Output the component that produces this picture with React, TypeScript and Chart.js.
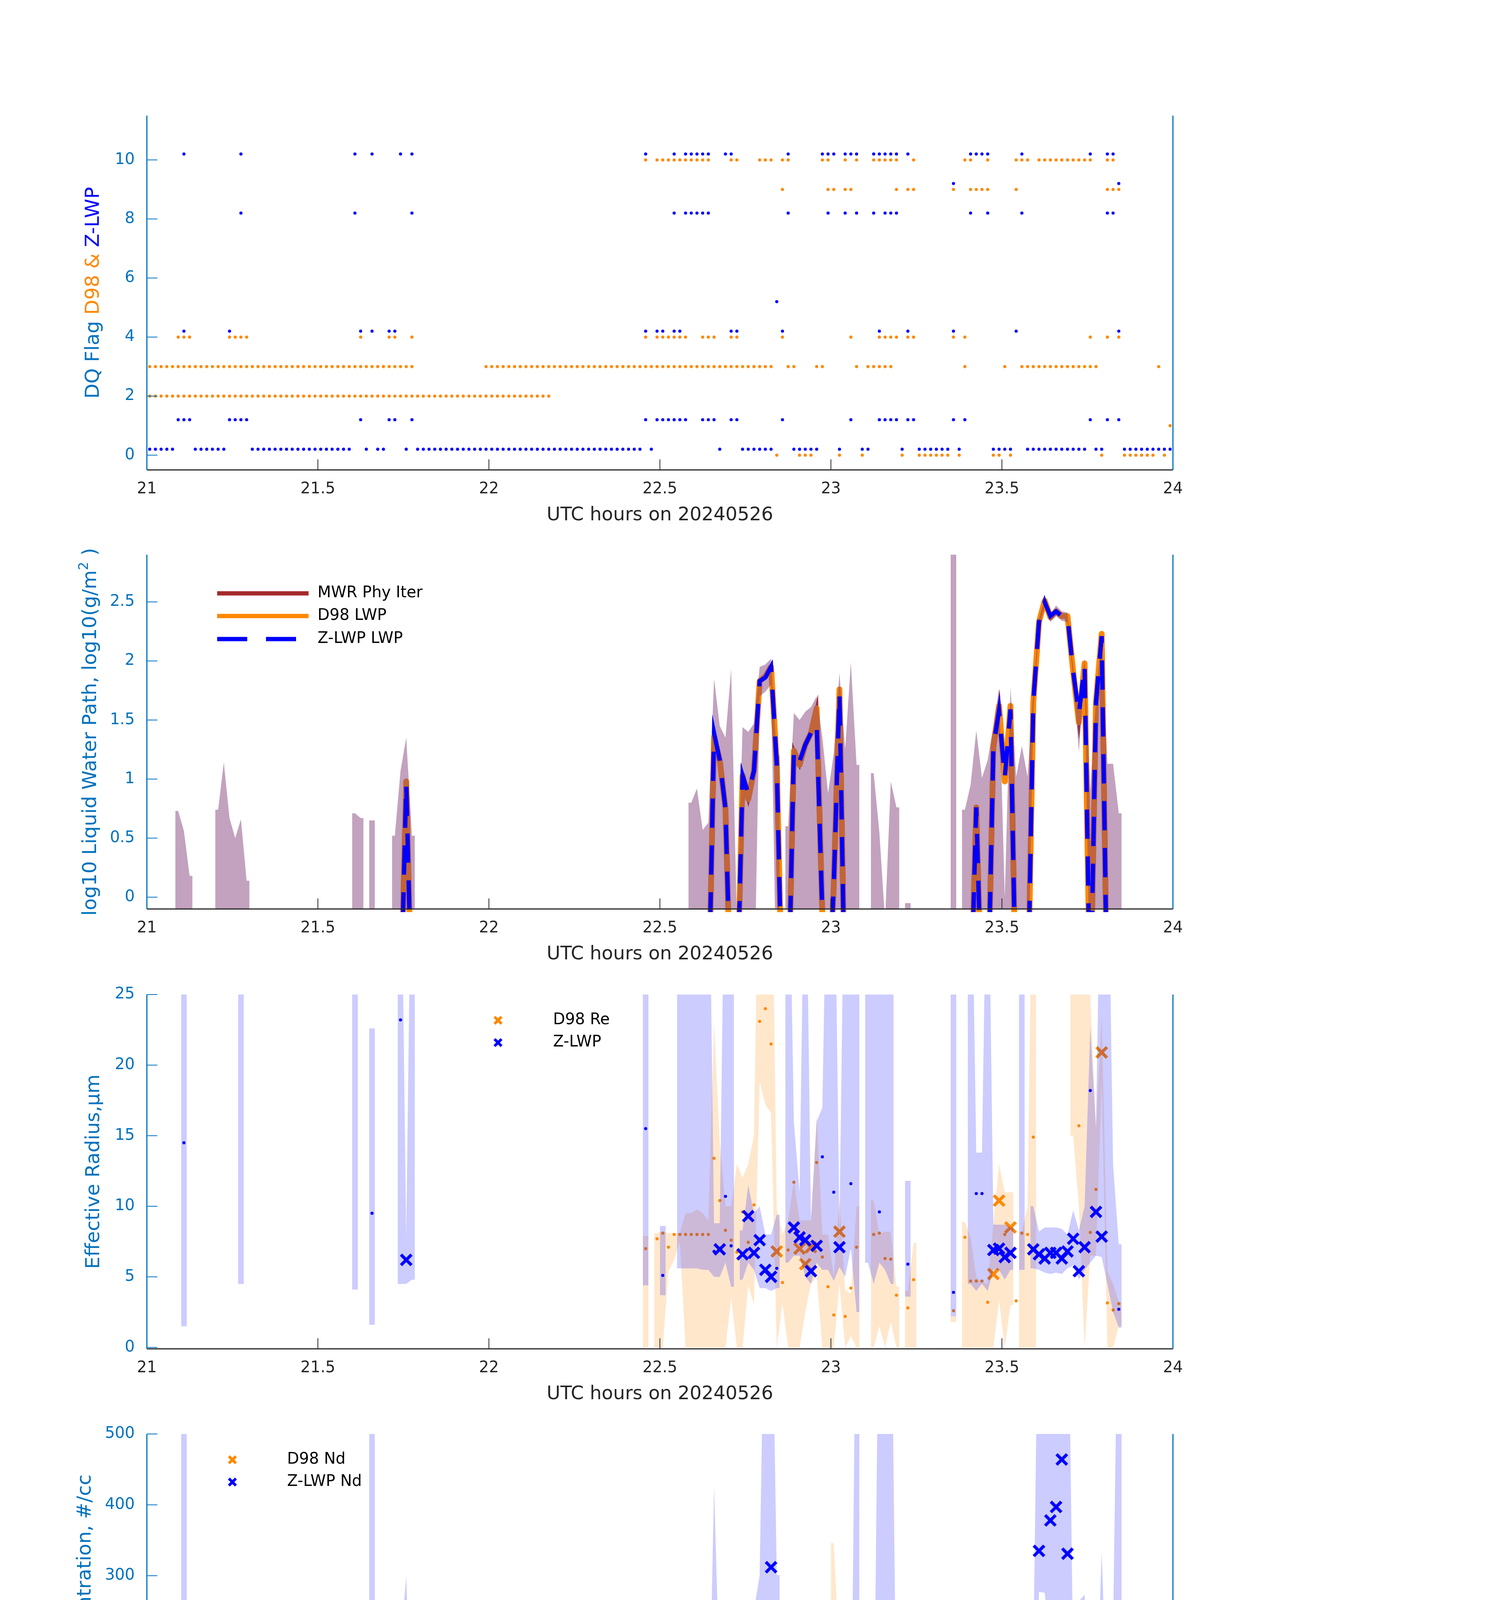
import { useEffect, useRef } from "react";
import { Chart, registerables } from "chart.js";

Chart.register(...registerables);

const FONT = "'DejaVu Sans', 'Liberation Sans', sans-serif";
const AXIS_BLUE = "#0072BD";
const INK = "#262626";
const ORANGE = "#FF8800";
const BLUE = "#0000FF";
const ORANGE_BAND = "rgba(255,136,0,0.2)";
const BLUE_BAND = "rgba(0,0,255,0.2)";
const MWR_BAND = "rgba(128,60,120,0.48)";

const PAGE_W = 3825;
const PLOT_LEFT = 376;
const PLOT_RIGHT = 3003;
const PLOT_H = 907;
const CANVAS_H = 1125;
const PAD_TOP = 60;

// one sample per minute after 21 UTC, stamped at mid-minute
const hourOf = (m: number) => 21 + (m + 0.5) / 60;
const xTicks = [21, 21.5, 22, 22.5, 23, 23.5, 24];

// ---- panel 1: data quality flags, [first minute, last minute] runs ----
const zFlag0 = [[0, 4], [8, 13], [18, 35], [38, 38], [40, 41], [45, 45], [47, 86], [88, 88], [100, 100], [104, 109], [113, 117], [121, 121], [125, 126], [132, 132], [135, 140], [142, 142], [148, 151], [154, 164], [166, 167], [171, 179]];
const zFlag1 = [[5, 7], [14, 17], [37, 37], [42, 43], [46, 46], [87, 87], [89, 94], [97, 99], [102, 103], [111, 111], [123, 123], [128, 131], [133, 134], [141, 141], [143, 143], [165, 165], [168, 168], [170, 170]];
const zFlag4 = [[6, 6], [14, 14], [37, 37], [39, 39], [42, 43], [87, 87], [89, 90], [92, 93], [102, 103], [111, 111], [128, 128], [133, 133], [141, 141], [152, 152], [170, 170]];
const zFlag5 = [[110, 110]];
const zFlag8 = [[16, 16], [36, 36], [46, 46], [92, 92], [94, 98], [112, 112], [119, 119], [122, 122], [124, 124], [127, 127], [129, 131], [144, 144], [147, 147], [153, 153], [168, 169]];
const zFlag9 = [[141, 141], [170, 170]];
const zFlag10 = [[6, 6], [16, 16], [36, 36], [39, 39], [44, 44], [46, 46], [87, 87], [92, 92], [94, 98], [101, 102], [112, 112], [118, 120], [122, 124], [127, 131], [133, 133], [144, 147], [153, 153], [165, 165], [168, 169]];

const dFlag0 = [[110, 110], [114, 116], [121, 121], [125, 125], [132, 132], [135, 140], [142, 142], [148, 149], [151, 151], [167, 167], [171, 176], [178, 178]];
const dFlag1 = [[179, 179]];
const dFlag2 = [[0, 70]];
const dFlag3 = [[0, 46], [59, 109], [112, 113], [117, 118], [124, 124], [126, 130], [143, 143], [150, 150], [153, 166], [177, 177]];
const dFlag4 = [[5, 7], [14, 17], [37, 37], [42, 43], [46, 46], [87, 87], [89, 94], [97, 99], [102, 103], [111, 111], [123, 123], [128, 131], [133, 134], [141, 141], [143, 143], [165, 165], [168, 168], [170, 170]];
const dFlag9 = [[111, 111], [119, 120], [122, 123], [131, 131], [133, 134], [141, 141], [144, 147], [152, 152], [168, 170]];
const dFlag10 = [[87, 87], [89, 98], [102, 103], [107, 109], [111, 112], [118, 119], [122, 122], [124, 124], [127, 131], [134, 134], [143, 144], [147, 147], [152, 154], [156, 165], [168, 169]];

// ---- panel 2: log10 LWP, [minute, value]; -1 marks a zero (off the bottom) ----
const lwpD98 = [[44, -1], [45, 0.98], [46, -1], [98, -1], [99, 1.36], [100, 1.16], [101, 0.75], [102, -1], [103, -1], [104, 1.03], [105, 0.83], [106, 1.07], [107, 1.83], [108, 1.87], [109, 1.95], [110, 1.13], [111, -1], [112, -1], [113, 1.24], [114, 1.12], [115, 1.29], [116, 1.39], [117, 1.6], [118, -0.15], [119, -1], [120, 0.1], [121, 1.76], [122, -1], [144, -1], [145, 0.76], [146, -1], [147, -1], [148, 1.27], [149, 1.62], [150, 0.98], [151, 1.62], [152, -1], [153, -1], [154, -1], [155, 1.65], [156, 2.33], [157, 2.51], [158, 2.37], [159, 2.42], [160, 2.38], [161, 2.38], [162, 1.91], [163, 1.48], [164, 1.98], [165, -1], [166, 1.65], [167, 2.23], [168, -1]];
const lwpZlwp = [[44, -1], [45, 0.96], [46, -1], [98, -1], [99, 1.39], [100, 1.16], [101, 0.75], [102, -1], [103, -1], [104, 1.03], [105, 0.88], [106, 1.07], [107, 1.83], [108, 1.86], [109, 1.95], [110, 1.13], [111, -1], [112, -1], [113, 1.24], [114, 1.15], [115, 1.29], [116, 1.39], [117, 1.47], [118, -0.15], [119, -1], [120, 0.1], [121, 1.72], [122, -1], [144, -1], [145, 0.76], [146, -1], [147, -1], [148, 1.27], [149, 1.58], [150, 1.01], [151, 1.59], [152, -1], [153, -1], [154, -1], [155, 1.65], [156, 2.33], [157, 2.5], [158, 2.38], [159, 2.42], [160, 2.38], [161, 2.38], [162, 1.91], [163, 1.55], [164, 1.96], [165, -1], [166, 1.65], [167, 2.21], [168, -1]];
// the MWR physical retrieval lies under the D98 trace at this scale
const lwpMwr = lwpD98;
const LWP_TOP = 3.5;
// [minute, low, high]
const lwpMwrBand = [[5, -1, 0.73], [6, -1, 0.56], [7, -1, 0.18], [12, -1, 0.74], [13, -1, 1.14], [14, -1, 0.67], [15, -1, 0.5], [16, -1, 0.66], [17, -1, 0.14], [36, -1, 0.71], [37, -1, 0.67], [39, -1, 0.65], [43, -1, 0.52], [44, -1, 1.07], [45, -1, 1.35], [46, -1, 0.52], [95, -1, 0.8], [96, -1, 0.92], [97, -1, 0.57], [98, -1, 0.63], [99, -1, 1.85], [100, -1, 1.45], [101, -1, 1.35], [102, -1, 1.93], [103, -1, -0.2], [104, -1, 1.44], [105, -1, 1.4], [106, -1, 1.47], [107, 1.7, 1.95], [108, 1.74, 1.97], [109, 1.8, 2.02], [110, -1, 1.2], [112, -1, 0.6], [113, -1, 1.56], [114, -1, 1.5], [115, -1, 1.57], [116, -1, 1.61], [117, -1, 1.7], [118, -1, 1.35], [119, -1, 0.88], [120, -1, 1.22], [121, -1, 1.9], [122, -1, 1.25], [123, -1, 1.99], [124, -1, 1.12], [127, -1, 1.05], [128, -1, 0.55], [129, -1, -0.2], [130, -1, 0.98], [131, -1, 0.76], [133, -1, -0.05], [141, -1, LWP_TOP], [143, -1, 0.74], [144, -1, 0.95], [145, -1, 1.41], [146, -1, 1.01], [147, -1, 1.16], [148, -1, 1.45], [149, -1, 1.77], [150, -1, 0.0], [151, -1, 1.78], [152, -1, 1.02], [153, -1, 1.28], [154, -1, 1.02], [155, 1.55, 1.75], [156, 2.28, 2.36], [157, 2.46, 2.53], [158, 2.33, 2.4], [159, 2.38, 2.47], [160, 2.34, 2.42], [161, 2.33, 2.41], [162, 1.85, 1.95], [163, 1.23, 1.6], [164, 1.9, 2.02], [165, -1, 0.9], [166, -1, 1.7], [167, -1, 2.24], [168, -1, 1.13], [169, -1, 1.13], [170, -1, 0.71]];

// ---- panel 3: effective radius (um) ----
const RE_TOP = 40;
const reZlwpGood = [[45, 6.2], [100, 6.95], [104, 6.6], [105, 9.3], [106, 6.7], [107, 7.6], [108, 5.5], [109, 5.0], [113, 8.5], [114, 7.8], [115, 7.6], [116, 5.4], [117, 7.2], [121, 7.1], [148, 6.9], [149, 7.0], [150, 6.4], [151, 6.7], [155, 6.95], [156, 6.6], [157, 6.3], [158, 6.7], [159, 6.7], [160, 6.3], [161, 6.8], [162, 7.7], [163, 5.4], [164, 7.1], [166, 9.6], [167, 7.85]];
const reZlwpOther = [[6, 14.5], [39, 9.5], [44, 23.2], [87, 15.5], [90, 5.1], [99, 6.8], [101, 10.7], [102, 7.2], [110, 5.6], [118, 13.5], [120, 11.0], [123, 11.6], [128, 9.6], [133, 5.9], [141, 3.9], [145, 10.9], [146, 10.9], [165, 18.2], [170, 2.7]];
const reD98Good = [[110, 6.8], [114, 7.0], [115, 5.9], [116, 7.1], [121, 8.2], [148, 5.2], [149, 10.4], [151, 8.5], [167, 20.9]];
const reD98Other = [[87, 7.0], [89, 7.7], [90, 8.1], [91, 7.1], [92, 8.0], [93, 8.0], [94, 8.0], [95, 8.0], [96, 8.0], [97, 8.0], [98, 8.0], [99, 13.4], [100, 10.4], [101, 8.3], [102, 7.6], [103, 6.75], [104, 9.6], [105, 7.45], [106, 10.1], [107, 23.1], [108, 24.0], [109, 21.5], [111, 4.6], [112, 6.9], [113, 11.7], [117, 13.1], [118, 6.4], [119, 4.3], [120, 2.3], [122, 2.2], [123, 4.2], [124, 7.1], [127, 8.0], [128, 8.1], [129, 6.3], [130, 6.25], [131, 3.7], [133, 2.8], [134, 4.8], [141, 2.6], [143, 7.8], [144, 4.7], [145, 4.7], [146, 4.7], [147, 3.2], [150, 8.0], [152, 3.3], [153, 8.1], [154, 8.0], [155, 14.9], [163, 15.7], [165, 8.15], [166, 11.2], [168, 3.15], [169, 2.65], [170, 3.1]];
const reZlwpBand = [[6, 1.5, RE_TOP], [16, 4.5, RE_TOP], [36, 4.1, RE_TOP], [39, 1.6, 22.6], [44, 4.5, RE_TOP], [45, 4.5, 7.8], [46, 4.8, RE_TOP], [87, 4.4, RE_TOP], [90, 3.7, 8.6], [93, 5.6, RE_TOP], [94, 5.6, RE_TOP], [95, 5.6, RE_TOP], [96, 5.6, RE_TOP], [97, 5.5, RE_TOP], [98, 5.5, RE_TOP], [99, 5.0, 8.8], [100, 5.0, 8.8], [101, 6.0, RE_TOP], [102, 4.3, RE_TOP], [104, 4.8, 8.3], [105, 6.0, 11.5], [106, 5.5, 9.5], [107, 4.2, 10], [108, 4.2, 8.0], [109, 4.0, 8.0], [110, 4.2, 9.4], [112, 6.0, RE_TOP], [113, 6.5, 16], [114, 6.5, 11], [115, 5.0, RE_TOP], [116, 4.5, 9], [117, 6.0, 16], [118, 5.5, 17], [119, 5.5, RE_TOP], [120, 4.7, RE_TOP], [121, 5.7, 8.4], [122, 5.0, RE_TOP], [123, 7.0, RE_TOP], [124, 2.5, RE_TOP], [126, 6.0, RE_TOP], [127, 4.5, RE_TOP], [128, 6.0, RE_TOP], [129, 5.5, RE_TOP], [130, 4.5, RE_TOP], [133, 3.6, 11.8], [141, 2.2, RE_TOP], [144, 4.5, RE_TOP], [145, 4.0, 13.8], [146, 4.5, 13.8], [147, 4.0, RE_TOP], [148, 5.5, 8.7], [149, 5.5, 8.7], [150, 4.8, 8.7], [151, 5.5, 8.5], [153, 5.5, RE_TOP], [155, 5.6, 10.0], [156, 5.5, 8.2], [157, 5.3, 8.5], [158, 5.2, 8.5], [159, 5.3, 8.5], [160, 5.2, 8.4], [161, 5.6, 8.0], [162, 5.8, 9.7], [163, 4.8, 8.3], [164, 5.5, 10.0], [165, 6.0, 22.7], [166, 6.5, 15.6], [167, 6.4, RE_TOP], [168, 4.5, RE_TOP], [169, 2.5, 12.9], [170, 1.4, 7.3]];
const reD98Band = [[87, 0, 7.9], [89, 0, 8.1], [90, 0, 8.2], [91, 5.4, 8.1], [92, 6.2, 8.1], [93, 7.5, 8.1], [94, 0, 9.5], [95, 0, 9.5], [96, 0, 9.8], [97, 0, 9.5], [98, 0, 9.0], [99, 0, 23], [100, 0, 14.5], [101, 0, 10], [102, 3.5, 10], [103, 0, 13], [104, 0, 12], [105, 4.4, 13], [106, 3, 15], [107, 18.8, RE_TOP], [108, 17.2, RE_TOP], [109, 16.6, RE_TOP], [110, 0, 9.8], [111, 3.1, 8.0], [112, 0, 9], [113, 0, 11.8], [114, 0, 9], [115, 2.5, 9], [116, 4.5, 9], [117, 5, 16.5], [118, 0, 8], [119, 0, 8], [120, 0, 5], [121, 4.5, 10.5], [122, 0, 4.1], [123, 0.8, 3.8], [124, 0, 10], [127, 0, 10.4], [128, 1.5, 8.0], [129, 0, 8.2], [130, 1.8, 8.2], [131, 0, 4.3], [133, 0, 4.0], [134, 0, 7.4], [141, 1.8, 2.2], [143, 0, 8.9], [144, 0, 7.8], [145, 0, 5.0], [146, 0, 4.6], [147, 0, 4.5], [148, 0, 8.7], [149, 3.3, 13], [150, 0, 11], [151, 3.0, 11], [153, 0, 8.2], [154, 0, 10], [155, 0, RE_TOP], [162, 15, RE_TOP], [163, 10, RE_TOP], [164, 0, RE_TOP], [165, 6.5, 25], [166, 6.5, 15.5], [167, 18.8, 23.5], [168, 0, 5.4], [169, 0, 4.5], [170, 1.5, 3.2]];

// ---- panel 4: droplet concentration (#/cc) ----
const ND_TOP = 800;
const ndZlwpGood = [[45, 47], [100, 22], [104, 36], [105, 8], [106, 42], [107, 71], [108, 173], [109, 312], [113, 22], [114, 21], [115, 36], [116, 79], [117, 52], [121, 89], [148, 25], [149, 78], [150, 31], [151, 87], [155, 63], [156, 335], [157, 560], [158, 378], [159, 397], [160, 464], [161, 331], [162, 87], [163, 113], [164, 135], [166, 24], [167, 166]];
const ndZlwpOther = [[6, 0], [16, 0], [36, 0], [39, 0], [44, 0], [46, 0], [87, 0], [90, 9], [92, 0], [93, 0], [94, 0], [95, 0], [96, 0], [97, 0], [98, 0], [99, 49], [101, 4], [102, 1], [110, 60], [112, 0], [118, 0], [119, 0], [120, 2], [122, 0], [123, 0], [124, 0], [127, 0], [128, 0], [129, 0], [130, 0], [131, 0], [133, 2], [141, 22], [144, 0], [145, 4], [146, 1], [147, 0], [153, 0], [165, 0], [168, 0], [169, 0], [170, 84]];
const ndD98Good = [[110, 26], [114, 31], [115, 71], [116, 35], [121, 56], [148, 55], [149, 21], [151, 39], [167, 8]];
const ndD98Other = [[87, 0], [89, 0], [90, 2], [91, 0], [92, 0], [93, 0], [94, 0], [95, 0], [96, 0], [97, 0], [98, 0], [99, 6], [100, 5], [101, 9], [102, 3], [103, 0], [104, 12], [105, 16], [106, 13], [107, 2], [108, 2], [109, 4], [111, 0], [112, 0], [113, 9], [117, 8], [118, 5], [119, 0], [120, 182], [122, 0], [123, 8], [124, 0], [127, 0], [128, 0], [129, 0], [130, 0], [131, 0], [133, 19], [134, 0], [141, 69], [143, 0], [144, 0], [145, 47], [146, 8], [147, 0], [150, 17], [152, 0], [153, 0], [154, 0], [155, 6], [156, 0], [157, 0], [158, 0], [159, 0], [160, 0], [161, 0], [162, 1], [163, 4], [164, 2], [165, 0], [166, 12], [168, 0], [169, 0], [170, 57]];
const ndZlwpBand = [[6, 0, ND_TOP], [16, 0, 120], [36, 0, 130], [39, 0, ND_TOP], [44, 0, 202], [45, 24, 300], [46, 0, 47], [90, 0, 41], [95, 0, 101], [96, 0, 95], [97, 0, 39], [98, 0, 27], [99, 0, 426], [100, 0, 144], [101, 0, 58], [102, 0, 10], [104, 0, 234], [105, 0, 115], [106, 0, 252], [107, 30, 300], [108, 120, ND_TOP], [109, 154, ND_TOP], [110, 0, 301], [112, 0, 47], [113, 0, 98], [114, 0, 112], [115, 0, 139], [116, 0, 249], [117, 0, 107], [118, 0, 154], [119, 0, 107], [120, 0, 30], [121, 0, 178], [122, 0, 10], [123, 0, 10], [124, 0, ND_TOP], [126, 0, 85], [127, 0, 20], [128, 0, ND_TOP], [129, 0, ND_TOP], [130, 0, ND_TOP], [131, 0, 80], [133, 0, 46], [141, 0, 225], [143, 0, 94], [144, 0, 81], [145, 0, 237], [146, 0, 198], [147, 0, 135], [148, 0, 135], [149, 0, 166], [150, 0, 193], [151, 0, 179], [152, 0, 47], [153, 0, 47], [155, 0, 182], [156, 277, ND_TOP], [157, 276, ND_TOP], [158, 196, ND_TOP], [159, 203, ND_TOP], [160, 230, ND_TOP], [161, 180, ND_TOP], [162, 41, 176], [163, 30, 264], [164, 68, 273], [165, 0, 90], [166, 10, 90], [167, 83, 335], [168, 0, 90], [169, 0, 227], [170, 9, ND_TOP]];
const ndD98Band = [[99, 0, 15], [100, 0, 12], [101, 0, 15], [104, 0, 17], [105, 0, 17], [106, 0, 17], [107, 0, 10], [108, 0, 17], [109, 0, 7], [110, 5, 31], [113, 0, 12], [114, 0, 124], [115, 0, 124], [116, 0, 87], [117, 0, 17], [120, 27, 346], [121, 0, 178], [122, 0, 176], [123, 0, 37], [124, 0, 10], [129, 0, 90], [130, 0, 90], [131, 0, 90], [133, 0, 81], [141, 0, 227], [145, 0, 134], [146, 0, 134], [147, 0, 134], [148, 0, 134], [149, 0, 130], [150, 0, 63], [151, 0, 19], [152, 0, 242], [153, 0, 19], [154, 0, 19], [166, 0, 75], [167, 0, 103], [168, 0, 108], [169, 0, 218], [170, 0, 203]];

// ---- panel 5: optical depth ----
const tauZlwpGood = [[45, 2.3], [100, 2.6], [104, 2.5], [105, 1.1], [106, 2.9], [107, 13.9], [108, 20.1], [109, 27.6], [113, 3.2], [114, 2.7], [115, 3.8], [116, 6.7], [117, 7.8], [121, 12.6], [148, 3.2], [149, 9.3], [150, 2.6], [151, 10.2], [155, 8.8], [156, 50.3], [157, 78.4], [158, 54.6], [159, 60.7], [160, 58.5], [161, 54.4], [162, 17.4], [163, 10.1], [164, 20.0], [166, 5.1], [167, 31.9]];
const tauZlwpOther = [[6, 0], [16, 0], [36, 0], [39, 0], [44, 0], [46, 0], [87, 0], [90, 0.2], [92, 0], [93, 0], [94, 0], [95, 0], [96, 0], [97, 0], [98, 0], [99, 5.6], [101, 0.9], [102, 0], [110, 4.3], [112, 0], [118, 0.3], [119, 0], [120, 0.6], [122, 0], [123, 0], [124, 0], [127, 0], [128, 0], [129, 0], [130, 0], [131, 0], [133, 0.2], [141, 0.5], [144, 0], [145, 0.9], [146, 0.1], [147, 0], [153, 0], [165, 0], [168, 0], [169, 0], [170, 0.6]];
const tauD98Good = [[110, 3.4], [114, 3.0], [115, 5.1], [116, 5.3], [121, 10.6], [148, 4.4], [149, 6.2], [151, 7.9], [167, 12.0]];
const tauD98Other = [[87, 0], [89, 0], [90, 0], [91, 0], [92, 0], [93, 0], [94, 0], [95, 0], [96, 0], [97, 0], [98, 0], [99, 2.9], [100, 1.9], [101, 1.2], [102, 0.5], [103, 0], [104, 0.8], [105, 1.9], [106, 1.9], [107, 4.6], [108, 4.7], [109, 6.4], [111, 0], [112, 0], [113, 2.5], [117, 4.2], [118, 1], [120, 2.2], [123, 0.3], [124, 0], [127, 0], [128, 0], [129, 0], [130, 0], [131, 0], [133, 0.3], [134, 0], [141, 0.3], [143, 0], [144, 0], [145, 1.9], [146, 0.2], [150, 2.8], [152, 0], [153, 0], [154, 0], [155, 4.1], [156, 6.0], [157, 6.3], [158, 6.1], [159, 6.1], [160, 6.1], [161, 6.1], [162, 5.0], [163, 3.6], [164, 5.0], [165, 0], [166, 4.2], [168, 0], [169, 0], [170, 0.5]];
const tauZlwpBand = [[6, 0, 3.6], [16, 0, 1.6], [36, 0, 2.0], [39, 0, 4.1], [44, 0, 4.1], [45, 0, 7.9], [46, 0, 1.2], [95, 0, 2.0], [96, 0, 2.3], [97, 0, 1.0], [98, 0, 1.0], [99, 0, 23.2], [100, 0, 8.9], [101, 0, 5], [102, 0, 0.5], [104, 0, 8.7], [105, 0, 6.7], [106, 0, 8.6], [107, 8.3, 18], [108, 15.8, 22.2], [109, 20.5, 35.3], [110, 0, 12.7], [112, 0, 8.5], [113, 0, 8.5], [114, 0, 9], [115, 0, 10], [116, 0, 13.9], [117, 0, 12.3], [118, 0, 6.1], [119, 0, 0.5], [121, 6.4, 19.8], [122, 0, 1], [123, 0, 4], [124, 0, 8.9], [126, 0, 2.8], [127, 0, 0.5], [128, 0, 0.5], [129, 0, 8.4], [130, 0, 2], [131, 0, 2], [144, 0, 3.9], [145, 0, 6.3], [146, 0, 3.9], [147, 0, 5], [148, 0, 9.3], [149, 0, 14.8], [150, 0, 9.4], [151, 0, 16.4], [152, 0, 4.4], [153, 0, 4.4], [155, 0, 17.5], [156, 43.4, 68.5], [157, 62, 90], [158, 43.5, 69], [159, 48, 76.3], [160, 46.7, 73.5], [161, 43.4, 68.6], [162, 13.3, 25], [163, 5.6, 14.6], [164, 14.6, 25.8], [165, 0, 1.4], [166, 0, 6.7], [167, 25.4, 39.9], [168, 0, 1.7], [169, 0, 4.2], [170, 0, 1]];
const tauD98Band = [[87, 0, 21.8], [89, 0, 21.8], [90, 0, 0.2], [99, 0, 4.4], [100, 0, 2.8], [101, 0, 1], [104, 0, 0.5], [105, 0, 0.5], [106, 0, 4.4], [107, 3.6, 5.0], [108, 4, 6.4], [109, 5, 8.1], [110, 0, 5.5], [111, 0, 0.3], [113, 0, 2.2], [114, 0, 2.2], [115, 0, 3], [116, 0, 6.7], [117, 0, 5.5], [119, 0, 0.5], [120, 0, 7.5], [121, 0, 11.7], [122, 0, 0.5], [141, 0, 0.7], [143, 0, 0.8], [145, 0, 3.9], [148, 0, 4.4], [149, 0, 5.5], [150, 0, 4.4], [151, 0, 5.5], [152, 0, 6.1], [153, 0, 6.1], [154, 0, 6.1], [155, 0, 5.3], [156, 5.5, 7], [157, 5.8, 7.2], [158, 5.7, 7.2], [159, 5.7, 7.2], [160, 5.6, 7.2], [161, 5.4, 7.0], [162, 3.5, 5.5], [163, 2, 2.8], [164, 3.5, 5.5], [165, 0, 3.9], [166, 0, 7.2], [167, 10.8, 12.8], [168, 0, 11.7], [169, 0, 11.7], [170, 0, 1]];

// ---------------- helpers ----------------
const CLIP = { left: 4, top: 0, right: 4, bottom: 8 };

function fromRuns(runs: number[][], y: number) {
  const pts: { x: number; y: number }[] = [];
  for (const [a, b] of runs) for (let m = a; m <= b; m++) pts.push({ x: hourOf(m), y });
  return pts;
}

function splitRuns(rows: number[][]) {
  const out: number[][][] = [];
  for (const r of rows) {
    const cur = out[out.length - 1];
    if (cur && r[0] === cur[cur.length - 1][0] + 1) cur.push(r);
    else out.push([r]);
  }
  return out;
}

function bandSets(rows: number[][], color: string): any[] {
  const sets: any[] = [];
  for (const run of splitRuns(rows)) {
    const first = run[0];
    const last = run[run.length - 1];
    const ext = [[first[0] - 0.5, first[1], first[2]], ...run, [last[0] + 0.5, last[1], last[2]]];
    const base = { borderWidth: 0, borderColor: "rgba(0,0,0,0)", pointRadius: 0, tension: 0, clip: CLIP };
    sets.push({ ...base, data: ext.map((r) => ({ x: hourOf(r[0]), y: r[1] })), fill: false });
    sets.push({ ...base, data: ext.map((r) => ({ x: hourOf(r[0]), y: r[2] })), fill: "-1", backgroundColor: color });
  }
  return sets;
}

function lineData(rows: number[][]) {
  const out: { x: number; y: number | null }[] = [];
  rows.forEach((r, i) => {
    if (i > 0 && r[0] !== rows[i - 1][0] + 1) out.push({ x: hourOf(r[0] - 0.5), y: null });
    out.push({ x: hourOf(r[0]), y: r[1] });
  });
  return out;
}

const pts = (rows: number[][]) => rows.map((r) => ({ x: hourOf(r[0]), y: r[1] }));

function dotSet(data: { x: number; y: number }[], color: string, r = 4) {
  return { data, showLine: false, pointRadius: r, pointBorderWidth: 0, pointBackgroundColor: color, pointBorderColor: color, clip: CLIP };
}

function crossSet(rows: number[][], color: string) {
  return { data: pts(rows), showLine: false, pointStyle: "crossRot", pointRadius: 19, pointBorderWidth: 8, pointBorderColor: color, pointBackgroundColor: color, clip: CLIP };
}

// ---------------- panels ----------------
type Seg = { text: string; color: string; sup?: boolean };
type LegendItem = { kind: "line" | "dash" | "cross"; color: string; text: string; dy: number; x0: number; x1?: number; tx: number };
type PanelCfg = {
  top: number;
  yMin: number;
  yMax: number;
  yTicks: number[];
  title: Seg[];
  titleX: number;
  legend: LegendItem[];
  layers: any[];
};

const panels: PanelCfg[] = [
  {
    top: 296,
    yMin: -0.5,
    yMax: 11.5,
    yTicks: [0, 2, 4, 6, 8, 10],
    title: [
      { text: "DQ Flag ", color: AXIS_BLUE },
      { text: "D98 & ", color: ORANGE },
      { text: "Z-LWP", color: BLUE },
    ],
    titleX: 240,
    legend: [],
    layers: [
      ...[[dFlag0, 0], [dFlag1, 1], [dFlag2, 2], [dFlag3, 3], [dFlag4, 4], [dFlag9, 9], [dFlag10, 10]].map(([r, v]) =>
        dotSet(fromRuns(r as number[][], v as number), ORANGE)
      ),
      // Z-LWP flags are drawn 0.2 above the D98 ones
      ...[[zFlag0, 0], [zFlag1, 1], [zFlag4, 4], [zFlag5, 5], [zFlag8, 8], [zFlag9, 9], [zFlag10, 10]].map(([r, v]) =>
        dotSet(fromRuns(r as number[][], (v as number) + 0.2), BLUE)
      ),
    ],
  },
  {
    top: 1420,
    yMin: -0.1,
    yMax: 2.9,
    yTicks: [0, 0.5, 1, 1.5, 2, 2.5],
    title: [
      { text: "log10 Liquid Water Path, log10(g/m", color: AXIS_BLUE },
      { text: "2", color: AXIS_BLUE, sup: true },
      { text: " )", color: AXIS_BLUE },
    ],
    titleX: 233,
    legend: [
      { kind: "line", color: "#A52A2A", text: "MWR Phy Iter", dy: 99, x0: 556, x1: 790, tx: 813 },
      { kind: "line", color: ORANGE, text: "D98 LWP", dy: 157, x0: 556, x1: 790, tx: 813 },
      { kind: "dash", color: BLUE, text: "Z-LWP LWP", dy: 216, x0: 556, x1: 759, tx: 813 },
    ],
    layers: [
      { data: lineData(lwpMwr), borderColor: "#A52A2A", borderWidth: 9, pointRadius: 0, tension: 0, clip: CLIP },
      { data: lineData(lwpD98), borderColor: ORANGE, borderWidth: 15, borderCapStyle: "round", borderJoinStyle: "round", pointRadius: 0, tension: 0, clip: CLIP },
      ...bandSets(lwpMwrBand, MWR_BAND),
      { data: lineData(lwpZlwp), borderColor: BLUE, borderWidth: 11, borderDash: [75, 45], pointRadius: 0, tension: 0, clip: CLIP },
    ],
  },
  {
    top: 2546,
    yMin: -0.1,
    yMax: 25,
    yTicks: [0, 5, 10, 15, 20, 25],
    title: [{ text: "Effective Radius,\u03bcm", color: AXIS_BLUE }],
    titleX: 241,
    legend: [
      { kind: "cross", color: ORANGE, text: "D98 Re", dy: 66, x0: 1275, tx: 1416 },
      { kind: "cross", color: BLUE, text: "Z-LWP", dy: 123, x0: 1275, tx: 1416 },
    ],
    layers: [
      ...bandSets(reD98Band, ORANGE_BAND),
      dotSet(pts(reD98Other), ORANGE),
      crossSet(reD98Good, ORANGE),
      ...bandSets(reZlwpBand, BLUE_BAND),
      dotSet(pts(reZlwpOther), BLUE),
      crossSet(reZlwpGood, BLUE),
    ],
  },
  {
    top: 3671,
    yMin: 0,
    yMax: 500,
    yTicks: [0, 100, 200, 300, 400, 500],
    title: [{ text: "Droplet Concentration, #/cc", color: AXIS_BLUE }],
    titleX: 219,
    legend: [
      { kind: "cross", color: ORANGE, text: "D98 Nd", dy: 66, x0: 595, tx: 735 },
      { kind: "cross", color: BLUE, text: "Z-LWP Nd", dy: 123, x0: 595, tx: 735 },
    ],
    layers: [
      ...bandSets(ndD98Band, ORANGE_BAND),
      dotSet(pts(ndD98Other), ORANGE),
      crossSet(ndD98Good, ORANGE),
      ...bandSets(ndZlwpBand, BLUE_BAND),
      dotSet(pts(ndZlwpOther), BLUE),
      crossSet(ndZlwpGood, BLUE),
    ],
  },
  {
    top: 4796,
    yMin: 0,
    yMax: 82.4,
    yTicks: [0, 10, 20, 30, 40, 50, 60, 70, 80],
    title: [{ text: "Optical Depth", color: AXIS_BLUE }],
    titleX: 244,
    legend: [
      { kind: "cross", color: ORANGE, text: "D98 OD", dy: 66, x0: 1251, tx: 1392 },
      { kind: "cross", color: BLUE, text: "Z-LWP Nd", dy: 122, x0: 1251, tx: 1392 },
    ],
    layers: [
      ...bandSets(tauD98Band, ORANGE_BAND),
      dotSet(pts(tauD98Other), ORANGE),
      crossSet(tauD98Good, ORANGE),
      ...bandSets(tauZlwpBand, BLUE_BAND),
      dotSet(pts(tauZlwpOther), BLUE),
      crossSet(tauZlwpGood, BLUE),
    ],
  },
];

function seg(ctx: CanvasRenderingContext2D, x0: number, y0: number, x1: number, y1: number) {
  ctx.beginPath();
  ctx.moveTo(x0, y0);
  ctx.lineTo(x1, y1);
  ctx.stroke();
}

function decor(cfg: PanelCfg) {
  return {
    id: "decor",
    afterDraw(chart: any) {
      const { ctx, chartArea: a } = chart;
      const sx = chart.scales.x;
      const sy = chart.scales.y;
      ctx.save();
      ctx.lineCap = "butt";
      ctx.setLineDash([]);

      // tick marks point into the plot
      ctx.lineWidth = 2;
      ctx.strokeStyle = AXIS_BLUE;
      for (const v of cfg.yTicks) {
        const py = sy.getPixelForValue(v);
        seg(ctx, a.left, py, a.left + 27, py);
      }
      ctx.strokeStyle = INK;
      for (const v of xTicks) {
        const px = sx.getPixelForValue(v);
        seg(ctx, px, a.bottom, px, a.bottom - 27);
      }

      ctx.lineWidth = 3;
      ctx.strokeStyle = INK;
      seg(ctx, a.left, a.bottom, a.right, a.bottom);
      ctx.strokeStyle = AXIS_BLUE;
      seg(ctx, a.left, a.top, a.left, a.bottom);
      seg(ctx, a.right, a.top, a.right, a.bottom);

      ctx.fillStyle = INK;
      ctx.font = `48px ${FONT}`;
      ctx.textAlign = "center";
      ctx.textBaseline = "middle";
      ctx.fillText("UTC hours on 20240526", (a.left + a.right) / 2, a.bottom + 117);

      // y title, possibly in several colours
      ctx.save();
      ctx.translate(cfg.titleX, (a.top + a.bottom) / 2);
      ctx.rotate(-Math.PI / 2);
      ctx.textAlign = "left";
      const fonts = cfg.title.map((s) => (s.sup ? `34px ${FONT}` : `50px ${FONT}`));
      const widths = cfg.title.map((s, i) => {
        ctx.font = fonts[i];
        return ctx.measureText(s.text).width;
      });
      let cx = -widths.reduce((p, w) => p + w, 0) / 2;
      cfg.title.forEach((s, i) => {
        ctx.font = fonts[i];
        ctx.fillStyle = s.color;
        ctx.fillText(s.text, cx, s.sup ? -17 : 0);
        cx += widths[i];
      });
      ctx.restore();

      // legend
      ctx.font = `40px ${FONT}`;
      ctx.textAlign = "left";
      ctx.textBaseline = "middle";
      for (const it of cfg.legend) {
        const y = a.top + it.dy;
        ctx.strokeStyle = it.color;
        if (it.kind === "cross") {
          ctx.lineWidth = 7;
          const h = 9;
          seg(ctx, it.x0 - h, y - h, it.x0 + h, y + h);
          seg(ctx, it.x0 - h, y + h, it.x0 + h, y - h);
        } else {
          ctx.lineWidth = 11;
          ctx.setLineDash(it.kind === "dash" ? [77, 48] : []);
          seg(ctx, it.x0, y, it.x1 as number, y);
          ctx.setLineDash([]);
        }
        ctx.fillStyle = "#000000";
        ctx.fillText(it.text, it.tx, y);
      }
      ctx.restore();
    },
  };
}

function Panel({ cfg }: { cfg: PanelCfg }) {
  const canvasRef = useRef<HTMLCanvasElement>(null);

  useEffect(() => {
    if (!canvasRef.current) return;
    // listed bottom layer first; Chart.js paints higher `order` underneath
    const datasets = cfg.layers.map((d, i) => ({ ...d, order: cfg.layers.length - i }));
    const chart = new Chart(canvasRef.current, {
      type: "line",
      data: { datasets },
      options: {
        animation: false,
        responsive: false,
        devicePixelRatio: 1,
        events: [],
        layout: { padding: { left: 0, right: PAGE_W - PLOT_RIGHT, top: PAD_TOP, bottom: 0 } },
        plugins: { legend: { display: false }, tooltip: { enabled: false } },
        scales: {
          x: {
            type: "linear",
            min: 21,
            max: 24,
            grid: { display: false, drawTicks: false },
            border: { display: false },
            ticks: {
              autoSkip: false,
              maxRotation: 0,
              padding: 26,
              color: INK,
              font: { family: FONT, size: 40 },
              callback: (v: any) => String(v),
            },
            afterBuildTicks: (s: any) => {
              s.ticks = xTicks.map((value) => ({ value }));
            },
            afterFit: (s: any) => {
              s.height = CANVAS_H - PAD_TOP - PLOT_H;
            },
          },
          y: {
            type: "linear",
            min: cfg.yMin,
            max: cfg.yMax,
            grid: { display: false, drawTicks: false },
            border: { display: false },
            ticks: {
              autoSkip: false,
              padding: 31,
              color: AXIS_BLUE,
              font: { family: FONT, size: 40 },
              callback: (v: any) => String(v),
            },
            afterBuildTicks: (s: any) => {
              s.ticks = cfg.yTicks.map((value) => ({ value }));
            },
            afterFit: (s: any) => {
              s.width = PLOT_LEFT;
            },
          },
        },
      } as any,
      plugins: [decor(cfg) as any],
    });
    return () => chart.destroy();
  }, [cfg]);

  return (
    <canvas
      ref={canvasRef}
      width={PAGE_W}
      height={CANVAS_H}
      style={{ position: "absolute", left: 0, top: cfg.top - PAD_TOP, width: PAGE_W, height: CANVAS_H }}
    />
  );
}

export default function App() {
  useEffect(() => {
    document.body.style.margin = "0";
  }, []);
  return (
    <div style={{ position: "relative", width: PAGE_W, height: 6000, background: "#ffffff" }}>
      {panels.map((p, i) => (
        <Panel key={i} cfg={p} />
      ))}
    </div>
  );
}
